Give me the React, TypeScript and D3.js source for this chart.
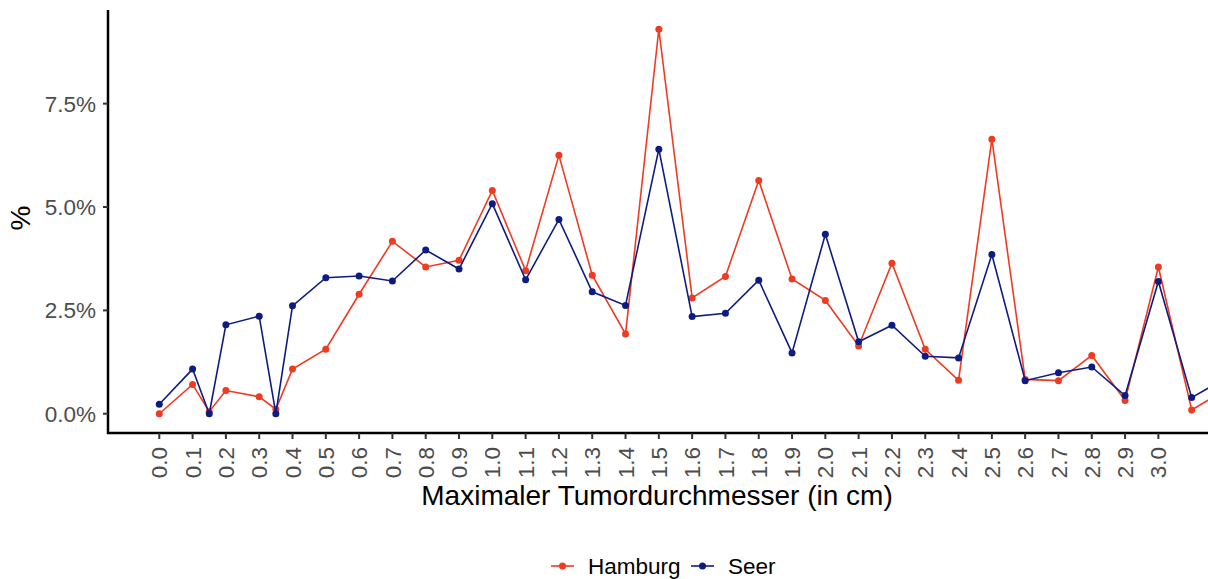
import React from "react";
import * as d3 from "d3";

const sizes = [0.0, 0.1, 0.15, 0.2, 0.3, 0.35, 0.4, 0.5, 0.6, 0.7, 0.8, 0.9, 1.0, 1.1, 1.2, 1.3, 1.4, 1.5, 1.6, 1.7, 1.8, 1.9, 2.0, 2.1, 2.2, 2.3, 2.4, 2.5, 2.6, 2.7, 2.8, 2.9, 3.0, 3.1, 3.2];
const hamburg = [0.0, 0.71, 0.05, 0.56, 0.41, 0.11, 1.08, 1.56, 2.89, 4.17, 3.55, 3.71, 5.4, 3.46, 6.25, 3.35, 1.93, 9.3, 2.8, 3.32, 5.64, 3.26, 2.74, 1.64, 3.64, 1.56, 0.81, 6.64, 0.83, 0.8, 1.41, 0.32, 3.55, 0.09, 0.57];
const seer = [0.23, 1.08, 0.0, 2.15, 2.36, 0.0, 2.61, 3.29, 3.33, 3.21, 3.96, 3.5, 5.08, 3.24, 4.7, 2.95, 2.62, 6.4, 2.35, 2.43, 3.23, 1.47, 4.34, 1.74, 2.14, 1.39, 1.35, 3.85, 0.8, 0.99, 1.13, 0.44, 3.2, 0.39, 0.85];
const xTicks = [0.0, 0.1, 0.2, 0.3, 0.4, 0.5, 0.6, 0.7, 0.8, 0.9, 1.0, 1.1, 1.2, 1.3, 1.4, 1.5, 1.6, 1.7, 1.8, 1.9, 2.0, 2.1, 2.2, 2.3, 2.4, 2.5, 2.6, 2.7, 2.8, 2.9, 3.0];
const yTicks = [0, 2.5, 5.0, 7.5];
const seriesNames = ["Hamburg", "Seer"];
const seriesColors = ["#EE3B22", "#0E1C82"];

const W = 1208;
const H = 579;
const left = 108;
const right = 1208;
const top = 10;
const bottom = 433;
const FONT = "'Liberation Sans', Arial, Helvetica, sans-serif";

export default function App() {
  const x = d3.scaleLinear().domain([-0.154, 3.149]).range([left, right]);
  const y = d3.scaleLinear().domain([-0.466, 9.765]).range([bottom, top]);
  const series = [hamburg, seer];
  const line = d3
    .line<number>()
    .x((_, i) => x(sizes[i]))
    .y((d) => y(d));

  return (
    <svg width={W} height={H} style={{ position: "absolute", left: 0, top: 0, background: "#fff" }} fontFamily={FONT}>
      <defs>
        <clipPath id="panel">
          <rect x={left} y={top} width={right - left} height={bottom - top} />
        </clipPath>
      </defs>
      <g clipPath="url(#panel)">
        {series.map((vals, si) => (
          <g key={si}>
            <path d={line(vals) || ""} fill="none" stroke={seriesColors[si]} strokeWidth={1.6} />
            {vals.map((v, i) => (
              <circle key={i} cx={x(sizes[i])} cy={y(v)} r={3.5} fill={seriesColors[si]} />
            ))}
          </g>
        ))}
      </g>
      <line x1={left} x2={left} y1={top} y2={bottom + 1} stroke="#000" strokeWidth={2.5} />
      <line x1={left - 1} x2={right} y1={bottom} y2={bottom} stroke="#000" strokeWidth={2.5} />
      {yTicks.map((t) => (
        <g key={t}>
          <line x1={left - 5} x2={left} y1={y(t)} y2={y(t)} stroke="#333" strokeWidth={2} />
          <text x={96} y={y(t)} dy="0.36em" textAnchor="end" fontSize={22.5} fill="#4D4D4D">
            {d3.format(".1f")(t) + "%"}
          </text>
        </g>
      ))}
      {xTicks.map((t) => (
        <g key={t}>
          <line x1={x(t)} x2={x(t)} y1={bottom} y2={bottom + 6} stroke="#333" strokeWidth={2} />
          <text
            transform={`translate(${x(t)},${447}) rotate(-90)`}
            dy="0.36em"
            textAnchor="end"
            fontSize={22.5}
            fill="#4D4D4D"
          >
            {d3.format(".1f")(t)}
          </text>
        </g>
      ))}
      <text x={657} y={505} textAnchor="middle" fontSize={28} fill="#000">
        Maximaler Tumordurchmesser (in cm)
      </text>
      <text transform={`translate(30,218) rotate(-90)`} textAnchor="middle" fontSize={28} fill="#000">
        %
      </text>
      {seriesNames.map((n, i) => {
        const lx = i === 0 ? 551 : 691;
        return (
          <g key={n}>
            <line x1={lx} x2={lx + 23} y1={566} y2={566} stroke={seriesColors[i]} strokeWidth={1.6} />
            <circle cx={lx + 11.5} cy={566} r={3.5} fill={seriesColors[i]} />
            <text x={lx + 37} y={566} dy="0.36em" fontSize={22.5} fill="#000">
              {n}
            </text>
          </g>
        );
      })}
    </svg>
  );
}
